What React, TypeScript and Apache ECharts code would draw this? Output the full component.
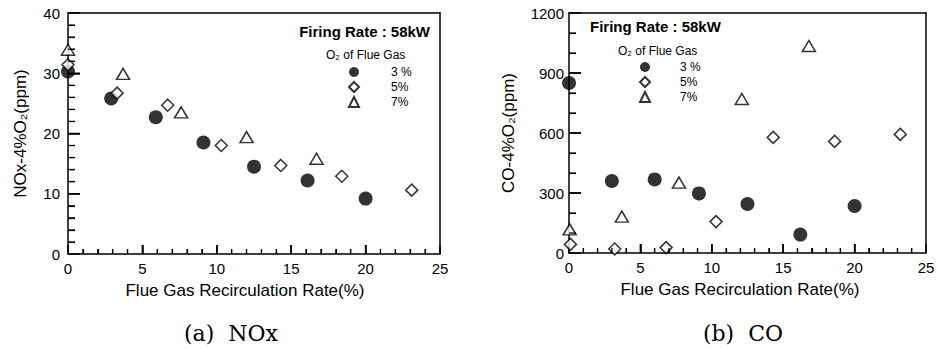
import React, { useEffect, useRef } from "react";
import * as echarts from "echarts";

// NOx-4%O2 (ppm) vs flue gas recirculation rate (%)
const nox3: number[][] = [[0, 30.3], [2.9, 25.8], [5.9, 22.7], [9.1, 18.5], [12.5, 14.5], [16.1, 12.2], [20.0, 9.2]];
const nox5: number[][] = [[0, 31.4], [3.3, 26.7], [6.7, 24.7], [10.3, 18.0], [14.3, 14.7], [18.4, 12.9], [23.1, 10.6]];
const nox7: number[][] = [[0, 33.9], [3.7, 29.9], [7.6, 23.5], [12.0, 19.4], [16.7, 15.8]];

// CO-4%O2 (ppm) vs flue gas recirculation rate (%)
const co3: number[][] = [[0, 850], [3.0, 360], [6.0, 368], [9.1, 298], [12.5, 245], [16.2, 92], [20.0, 235]];
const co5: number[][] = [[0.1, 43], [3.2, 20], [6.8, 27], [10.3, 157], [14.3, 578], [18.6, 558], [23.2, 593]];
const co7: number[][] = [[0.05, 118], [3.7, 182], [7.7, 352], [12.1, 770], [16.8, 1035]];

const seriesNames = ["3 %", "5%", "7%"];
const xName = "Flue Gas Recirculation Rate(%)";
const yNames = ["NOx-4%O₂(ppm)", "CO-4%O₂(ppm)"];
const titleText = "Firing Rate : 58kW";
const legendTitle = "O₂ of Flue Gas";
const captions = ["(a)  NOx", "(b)  CO"];

const FONT = "'Liberation Sans', Arial, Helvetica, sans-serif";
const SERIF = "'DejaVu Serif', 'Liberation Serif', serif";
const fmt = (v: number) => String(v);

const X_MAX = 25;
const X_INTERVAL = 5;
const X_MINOR = 5;

function scatter(name: string, data: number[][], kind: number) {
  const base: any = { type: "scatter", name, data };
  if (kind === 0) {
    base.symbol = "circle";
    base.symbolSize = 14;
    base.itemStyle = { color: "#000" };
  } else if (kind === 1) {
    base.symbol = "diamond";
    base.symbolSize = 12;
    base.itemStyle = { color: "#fff", borderColor: "#000", borderWidth: 1.5 };
  } else {
    base.symbol = "triangle";
    base.symbolSize = [13, 11];
    base.itemStyle = { color: "#fff", borderColor: "#000", borderWidth: 1.5 };
  }
  return base;
}

type PanelCfg = {
  gridLeft: number;
  gridW: number;
  gridH: number;
  yMax: number;
  yInterval: number;
  yMinor: number;
  yName: string;
  yGap: number;
  yLabelMargin: number;
  xPadRight: number;
  legendLeft: number;
  legendTop: number;
  legendPad: number;
  data: number[][][];
  texts: { t: string; x: number; y: number; font: string; align: string }[];
};

function textGraphics(c: PanelCfg) {
  return c.texts.map((g) => ({
    type: "text",
    x: g.x,
    y: g.y,
    z: 10,
    style: { text: g.t, font: g.font, fill: "#000", align: g.align, verticalAlign: "middle" },
  }));
}

function buildOption(c: PanelCfg) {
  return {
    animation: false,
    grid: [{ left: c.gridLeft, top: 13, width: c.gridW, height: c.gridH }],
    xAxis: [
      {
        type: "value",
        gridIndex: 0,
        min: 0,
        max: X_MAX,
        interval: X_INTERVAL,
        name: xName,
        nameLocation: "middle",
        nameGap: 28,
        nameTextStyle: { color: "#000", fontSize: 17, fontFamily: FONT, padding: [0, c.xPadRight, 0, 0] },
        axisLine: { show: true, onZero: false, lineStyle: { color: "#000", width: 1.5 } },
        axisTick: { show: true, inside: true, length: 9, lineStyle: { color: "#000", width: 1.5 } },
        minorTick: { show: true, splitNumber: X_MINOR, length: 5, lineStyle: { color: "#000", width: 1.2 } },
        splitLine: { show: false },
        axisLabel: { color: "#000", fontSize: 15, fontFamily: FONT, margin: 7, formatter: fmt },
      },
      {
        type: "value",
        gridIndex: 0,
        position: "top",
        min: 0,
        max: X_MAX,
        interval: X_INTERVAL,
        axisLine: { show: true, onZero: false, lineStyle: { color: "#000", width: 1.5 } },
        axisTick: { show: false },
        minorTick: { show: false },
        splitLine: { show: false },
        axisLabel: { show: false },
      },
    ],
    yAxis: [
      {
        type: "value",
        gridIndex: 0,
        min: 0,
        max: c.yMax,
        interval: c.yInterval,
        name: c.yName,
        nameLocation: "middle",
        nameGap: c.yGap,
        nameTextStyle: { color: "#000", fontSize: 17, fontFamily: FONT },
        axisLine: { show: true, onZero: false, lineStyle: { color: "#000", width: 1.5 } },
        axisTick: { show: true, inside: true, length: 12, lineStyle: { color: "#000", width: 1.5 } },
        minorTick: { show: true, splitNumber: c.yMinor, length: 7, lineStyle: { color: "#000", width: 1.2 } },
        splitLine: { show: false },
        axisLabel: { color: "#000", fontSize: 15, fontFamily: FONT, margin: c.yLabelMargin, formatter: fmt },
      },
      {
        type: "value",
        gridIndex: 0,
        position: "right",
        min: 0,
        max: c.yMax,
        interval: c.yInterval,
        axisLine: { show: true, onZero: false, lineStyle: { color: "#000", width: 1.5 } },
        axisTick: { show: false },
        minorTick: { show: false },
        splitLine: { show: false },
        axisLabel: { show: false },
      },
    ],
    legend: [
      {
        orient: "vertical",
        left: c.legendLeft,
        top: c.legendTop,
        padding: 0,
        itemWidth: 10,
        itemHeight: 10,
        itemGap: 3,
        selectedMode: false,
        data: seriesNames,
        textStyle: { color: "#000", fontSize: 12, fontFamily: FONT, lineHeight: 12, padding: [0, 0, 0, c.legendPad] },
      },
    ],
    series: [
      scatter(seriesNames[0], c.data[0], 0),
      scatter(seriesNames[1], c.data[1], 1),
      scatter(seriesNames[2], c.data[2], 2),
    ],
    graphic: textGraphics(c),
  };
}

// Inward ticks placed through the chart's own axis scales (convertToPixel).
function tickGraphics(chart: any, c: PanelCfg) {
  const out: any[] = [];
  const x0 = chart.convertToPixel({ xAxisIndex: 0 }, 0);
  const y0 = chart.convertToPixel({ yAxisIndex: 0 }, 0);
  const xStep = X_INTERVAL / X_MINOR;
  const nx = Math.round(X_MAX / xStep);
  for (let i = 1; i < nx; i++) {
    const v = i * xStep;
    const px = chart.convertToPixel({ xAxisIndex: 0 }, v);
    const major = i % X_MINOR === 0;
    out.push({
      type: "line",
      z: 5,
      shape: { x1: px, y1: y0, x2: px, y2: y0 - (major ? 9 : 5) },
      style: { stroke: "#000", lineWidth: major ? 1.5 : 1.2 },
    });
  }
  const yStep = c.yInterval / c.yMinor;
  const ny = Math.round(c.yMax / yStep);
  for (let i = 1; i < ny; i++) {
    const v = i * yStep;
    const py = chart.convertToPixel({ yAxisIndex: 0 }, v);
    const major = i % c.yMinor === 0;
    out.push({
      type: "line",
      z: 5,
      shape: { x1: x0, y1: py, x2: x0 + (major ? 12 : 7), y2: py },
      style: { stroke: "#000", lineWidth: major ? 1.5 : 1.2 },
    });
  }
  return out;
}

const leftCfg: PanelCfg = {
  gridLeft: 68,
  gridW: 372,
  gridH: 241,
  yMax: 40,
  yInterval: 10,
  yMinor: 5,
  yName: yNames[0],
  yGap: 39,
  yLabelMargin: 8,
  xPadRight: 18,
  legendLeft: 348,
  legendTop: 66,
  legendPad: 27,
  data: [nox3, nox5, nox7],
  texts: [
    { t: titleText, x: 430, y: 31, font: `bold 15px ${FONT}`, align: "right" },
    { t: legendTitle, x: 326, y: 55, font: `12px ${FONT}`, align: "left" },
    { t: captions[0], x: 231, y: 333, font: `22px ${SERIF}`, align: "center" },
  ],
};

const OFF = 469;
const rightCfg: PanelCfg = {
  gridLeft: 569 - OFF,
  gridW: 357,
  gridH: 240,
  yMax: 1200,
  yInterval: 300,
  yMinor: 3,
  yName: yNames[1],
  yGap: 52,
  yLabelMargin: 5,
  xPadRight: 15,
  legendLeft: 639 - OFF,
  legendTop: 61,
  legendPad: 25,
  data: [co3, co5, co7],
  texts: [
    { t: titleText, x: 590 - OFF, y: 26, font: `bold 15px ${FONT}`, align: "left" },
    { t: legendTitle, x: 618 - OFF, y: 51, font: `12px ${FONT}`, align: "left" },
    { t: captions[1], x: 743 - OFF, y: 333, font: `22px ${SERIF}`, align: "center" },
  ],
};

function Panel({ cfg, left }: { cfg: PanelCfg; left: number }) {
  const ref = useRef<HTMLDivElement>(null);
  useEffect(() => {
    if (!ref.current) return;
    const chart = echarts.init(ref.current, undefined, { renderer: "svg" });
    chart.setOption(buildOption(cfg) as any);
    chart.setOption({ graphic: [...textGraphics(cfg), ...tickGraphics(chart, cfg)] } as any);
    return () => chart.dispose();
  }, []);
  return (
    <div
      ref={ref}
      style={{ position: "absolute", left, top: 0, width: 469, height: 349 }}
    />
  );
}

export default function App() {
  return (
    <div style={{ position: "fixed", left: 0, top: 0, width: 938, height: 349, background: "#fff" }}>
      <Panel cfg={leftCfg} left={0} />
      <Panel cfg={rightCfg} left={OFF} />
    </div>
  );
}
